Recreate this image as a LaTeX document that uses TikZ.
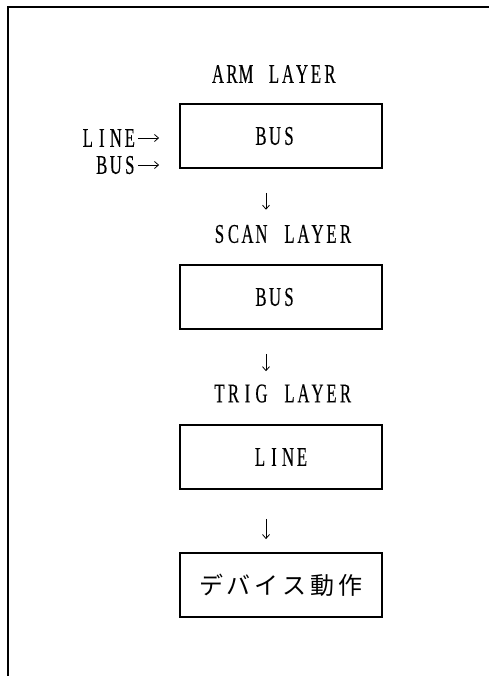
\documentclass[tikz,border=0pt]{standalone}
\usepackage{fontspec}
\setmainfont{Liberation Serif}[FakeStretch=0.62,FakeBold=0.2]
\newfontfamily\cjk{Noto Sans CJK JP}
\usetikzlibrary{arrows.meta}
\ExplSyntaxOn
\NewDocumentCommand\cells{O{14pt}m}{\tl_map_inline:nn{#2}{\makebox[#1]{##1}}}
\ExplSyntaxOff
\begin{document}
\begin{tikzpicture}[x=1pt,y=-1pt,
  lbl/.style={inner sep=0pt,font=\fontsize{27pt}{27pt}\selectfont},
  box/.style={draw,line width=1.8pt,minimum width=202pt,minimum height=64pt,inner sep=0pt,
    font=\fontsize{27pt}{27pt}\selectfont},
  jbox/.style={box,font=\cjk\fontsize{24pt}{24pt}\selectfont},
  arr/.style={line width=0.8pt,-{Straight Barb[length=4pt,width=7pt]}},
  frame/.style={line width=1.5pt}]
\useasboundingbox (0,0) rectangle (489,676);
% frame
\coordinate (fbl) at (8,676);
\coordinate (ftl) at (8,7);
\coordinate (ftr) at (489,7);
\draw[frame] (fbl) -- (ftl) -- (ftr);
% column of the down arrows
\coordinate (ax) at (266,0);
% labels
\node[lbl] (arm) at (274,74) {\cells{ARM~LAYER}};
\node[lbl] (scan) at (282.5,234) {\cells{SCAN~LAYER}};
\node[lbl] (trig) at (282.5,393.5) {\cells{TRIG~LAYER}};
% boxes
\node[box] (b1) at (281,136) {\cells{BUS}\kern12pt};
\node[box] (b2) at (281,297) {\cells{BUS}\kern12pt};
\node[box] (b3) at (281,457) {\cells{LINE}};
\node[jbox] (b4) at (281,585) {\cells[28pt]{デバイス動作}};
% inputs
\node[lbl,anchor=east] (inline) at (137,138) {\cells{LINE}};
\node[lbl,anchor=east] (inbus) at (137,165) {\cells{BUS}};
\draw[arr,shorten <=1pt,shorten >=20pt] (inline.east) -- (inline.east -| b1.west);
\draw[arr,shorten <=1pt,shorten >=20pt] (inbus.east) -- (inbus.east -| b1.west);
% down arrows
\draw[arr,shorten <=24pt,shorten >=15pt] (b1.south -| ax) -- (scan.north -| ax);
\draw[arr,shorten <=24pt,shorten >=13pt] (b2.south -| ax) -- (trig.north -| ax);
\draw[arr,shorten <=29pt,shorten >=13pt] (b3.south -| ax) -- (b4.north -| ax);
\end{tikzpicture}
\end{document}
